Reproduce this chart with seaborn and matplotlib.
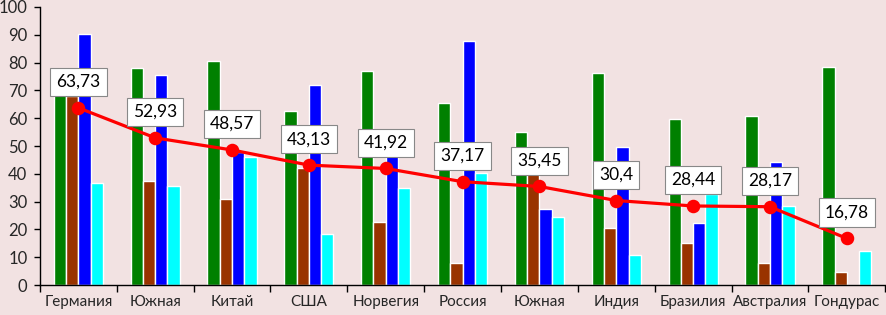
import numpy as np
import pandas as pd
import seaborn as sns
import matplotlib.pyplot as plt

countries = ["Германия", "Южная", "Китай", "США", "Норвегия", "Россия",
             "Южная", "Индия", "Бразилия", "Австралия", "Гондурас"]
green = [69, 78.2, 80.6, 62.5, 77.1, 65.4, 55.0, 76.4, 59.7, 60.9, 78.5]
brown = [68, 37.4, 31.0, 42.2, 22.8, 8.0, 40.3, 20.5, 15.1, 8.0, 4.7]
blue = [90.3, 75.5, 48, 71.9, 47, 87.8, 27.3, 49.8, 22.2, 44.1, 0]
cyan = [36.7, 35.6, 45.9, 18.2, 34.8, 40.4, 24.6, 10.7, 32.8, 28.4, 12.3]
average = [63.73, 52.93, 48.57, 43.13, 41.92, 37.17, 35.45, 30.4, 28.44, 28.17, 16.78]
avg_labels = ["63,73", "52,93", "48,57", "43,13", "41,92", "37,17",
              "35,45", "30,4", "28,44", "28,17", "16,78"]

series = ["s1", "s2", "s3", "s4"]
colors = ["#008000", "#993300", "#0000FF", "#00FFFF"]

idx = list(range(len(countries)))
df = pd.DataFrame({
    "idx": idx * 4,
    "series": np.repeat(series, len(countries)),
    "value": green + brown + blue + cyan,
})

sns.set_theme(style="white")
plt.rcParams["font.family"] = ["Lato", "DejaVu Sans"]

bg = "#F2E2E2"
fig = plt.figure(figsize=(8.87, 3.15), dpi=100, facecolor=bg)
ax = fig.add_axes([0.045, 0.095, 0.953, 0.883])
ax.set_facecolor(bg)

sns.barplot(data=df, x="idx", y="value", hue="series", palette=colors,
            width=0.64, gap=0, legend=False, ax=ax, saturation=1)

line_df = pd.DataFrame({"idx": idx, "avg": average})
sns.pointplot(data=line_df, x="idx", y="avg", color="#FF0000",
              markersize=8, linewidth=2.3, ax=ax)

for i, (v, lab) in enumerate(zip(average, avg_labels)):
    ax.text(i, v + 9.3, lab, ha="center", va="center", fontsize=12.5,
            color="black", zorder=5,
            bbox=dict(boxstyle="square,pad=0.35", fc="white", ec="#888888", lw=0.8))

ax.set_ylim(0, 100)
ax.set_xlim(-0.5, len(countries) - 0.5)
ax.set_yticks(range(0, 101, 10))
ax.set_xticks(idx)
ax.set_xticklabels(countries, fontsize=11)
ax.tick_params(axis="y", labelsize=12, length=4, width=1, color="black",
               direction="out", pad=5, left=True)
ax.tick_params(axis="x", which="major", length=0, pad=7)
ax.set_xticks(np.arange(-0.5, len(countries), 1), minor=True)
ax.tick_params(axis="x", which="minor", length=5, width=1, color="black",
               direction="out", bottom=True)
ax.set_xlabel("")
ax.set_ylabel("")

for s in ["top", "right"]:
    ax.spines[s].set_visible(False)
for s in ["left", "bottom"]:
    ax.spines[s].set_color("black")
    ax.spines[s].set_linewidth(1)

fig.savefig("out.png", dpi=100, facecolor=bg)
